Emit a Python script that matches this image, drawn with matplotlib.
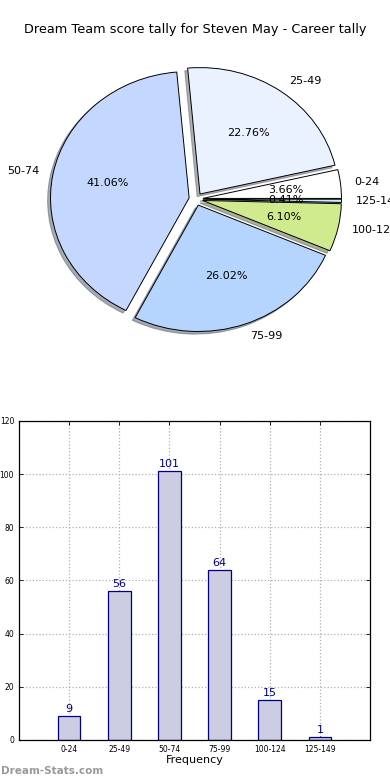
import numpy as np
import matplotlib
matplotlib.use('Agg')
import matplotlib.pyplot as plt

bands = ['0-24', '25-49', '50-74', '75-99', '100-124', '125-149']
counts = [9, 56, 101, 64, 15, 1]
pie_colors = ['#ffffff', '#eaf2ff', '#c4d8ff', '#b5d5ff', '#d0eb8d', '#c8f0ff']
title = 'Dream Team score tally for Steven May - Career tally'

fig = plt.figure(figsize=(3.9, 7.8), dpi=100)

# pie (old style, not forced round)
ax1 = fig.add_axes([0.0474, 0.5397, 0.910, 0.410])
wedges, texts, autotexts = ax1.pie(counts, labels=bands, colors=pie_colors,
                                   explode=[0.05] * len(counts),
                                   shadow={'ox': -0.015, 'oy': -0.015, 'shade': 0.6},
                                   autopct='%.2f%%',
                                   wedgeprops={'linewidth': 0.7, 'edgecolor': 'black'},
                                   textprops={'fontsize': 8})
ax1.set_aspect('auto')
ax1.set_xlim(-1.28, 1.28)
ax1.set_ylim(-1.265, 1.265)
ax1.axis('off')
fig.text(0.5, 1 - 30 / 780, title, ha='center', va='center', fontsize=9.3)

# bars
ax2 = fig.add_axes([0.0487, 0.0513, 0.900, 0.409])
x = np.arange(len(bands))
ax2.bar(x, counts, width=0.45, color='#cccce3', edgecolor='navy', linewidth=0.9, zorder=2)
for xi, c in zip(x, counts):
    ax2.text(xi, c + 0.8, str(c), ha='center', va='bottom', color='navy', fontsize=8)
ax2.set_xlim(-1, 6)
ax2.set_ylim(0, 120)
ax2.set_yticks(range(0, 121, 20))
ax2.set_xticks(x)
ax2.set_xticklabels(bands)
ax2.tick_params(axis='both', direction='in', top=True, right=True, labelsize=5.5,
                length=3, width=0.6)
ax2.set_xlabel('Frequency', fontsize=8, labelpad=1)
ax2.grid(True, linestyle=':', color='#b0b0b0', linewidth=0.9, zorder=0)
ax2.set_axisbelow(True)
for s in ax2.spines.values():
    s.set_linewidth(0.9)

fig.text(0.002, 0.012, 'Dream-Stats.com', color='#999999', fontsize=7.5,
         fontweight='bold', ha='left', va='center')

fig.savefig('out.png', dpi=100)
